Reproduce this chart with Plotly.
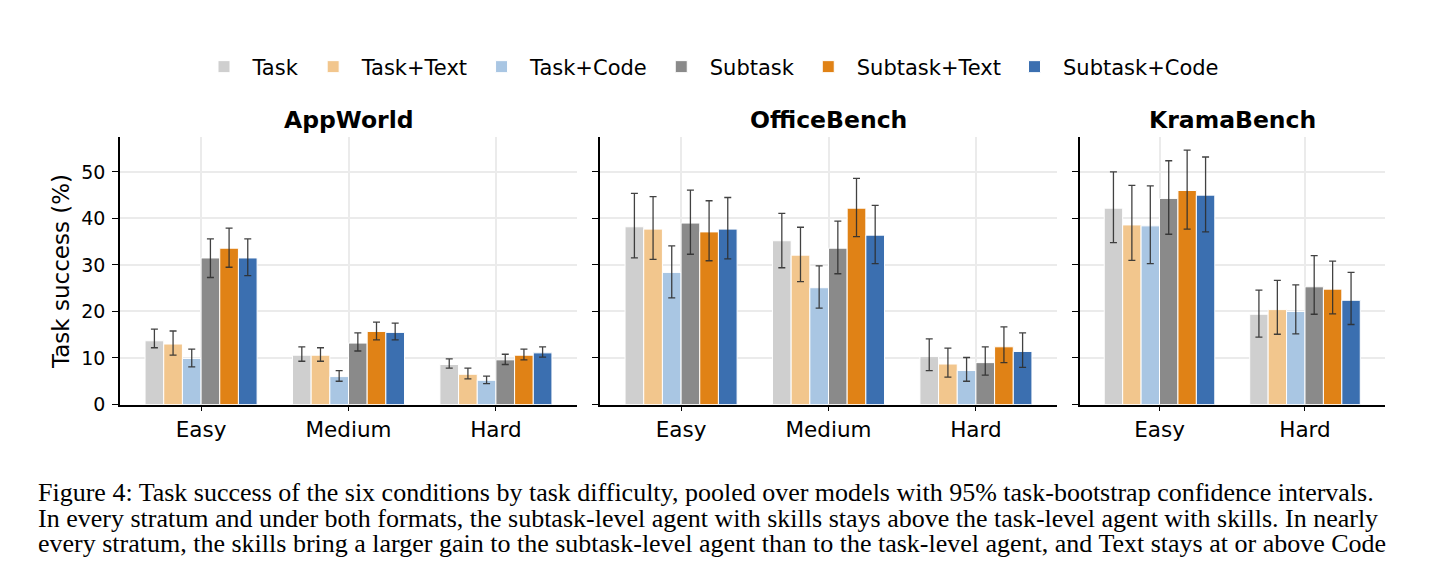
import plotly.graph_objects as go
from plotly.subplots import make_subplots

conditions = ["Task", "Task+Text", "Task+Code", "Subtask", "Subtask+Text", "Subtask+Code"]
colors = ["#cfcfcf", "#f2c68d", "#a9c6e3", "#8a8a8a", "#e08216", "#3b6fb0"]

benchmarks = ["AppWorld", "OfficeBench", "KramaBench"]

# AppWorld: rows = conditions, cols = difficulty
appworld_levels = ["Easy", "Medium", "Hard"]
appworld_mean = [
    [13.7, 10.6, 8.6],
    [13.0, 10.6, 6.5],
    [9.9, 6.0, 5.2],
    [31.5, 13.2, 9.6],
    [33.6, 15.7, 10.6],
    [31.5, 15.5, 11.1],
]
appworld_lo = [
    [12.2, 9.3, 7.8],
    [10.6, 9.3, 5.5],
    [8.1, 5.0, 4.5],
    [27.3, 11.5, 8.6],
    [29.5, 13.9, 9.6],
    [27.7, 13.9, 10.2],
]
appworld_hi = [
    [16.2, 12.4, 9.8],
    [15.8, 12.2, 7.8],
    [11.9, 7.3, 6.1],
    [35.6, 15.4, 10.8],
    [37.9, 17.7, 11.9],
    [35.6, 17.5, 12.4],
]

# OfficeBench
office_levels = ["Easy", "Medium", "Hard"]
office_mean = [
    [38.2, 35.2, 10.3],
    [37.7, 32.1, 8.7],
    [28.4, 25.1, 7.3],
    [39.0, 33.6, 9.0],
    [37.1, 42.2, 12.4],
    [37.7, 36.4, 11.4],
]
office_lo = [
    [31.5, 29.4, 7.3],
    [31.2, 26.4, 5.9],
    [22.9, 20.7, 5.0],
    [32.3, 28.1, 6.3],
    [30.9, 36.1, 9.0],
    [31.3, 30.3, 8.0],
]
office_hi = [
    [45.4, 41.1, 14.1],
    [44.7, 38.1, 12.1],
    [34.1, 29.8, 10.1],
    [46.1, 39.4, 12.4],
    [43.8, 48.6, 16.7],
    [44.5, 42.8, 15.4],
]

# KramaBench
krama_levels = ["Easy", "Hard"]
krama_mean = [
    [42.2, 19.4],
    [38.6, 20.4],
    [38.4, 20.0],
    [44.3, 25.3],
    [46.0, 24.8],
    [45.0, 22.4],
]
krama_lo = [
    [34.8, 14.5],
    [31.0, 15.1],
    [30.3, 15.2],
    [36.6, 19.4],
    [37.7, 19.5],
    [37.1, 17.2],
]
krama_hi = [
    [50.0, 24.6],
    [47.1, 26.7],
    [47.0, 25.7],
    [52.4, 32.0],
    [54.7, 30.8],
    [53.2, 28.4],
]

caption = [
    "Figure 4: Task success of the six conditions by task difficulty, pooled over models with 95% task-bootstrap confidence intervals.",
    "In every stratum and under both formats, the subtask-level agent with skills stays above the task-level agent with skills. In nearly",
    "every stratum, the skills bring a larger gain to the subtask-level agent than to the task-level agent, and Text stays at or above Code",
]

# the page body adds an 8px margin, so work in window pixels minus 8
OFF = 8
W, H = 1438 - OFF, 563 - OFF
FONT = "DejaVu Sans"


def px(x):
    return (x - OFF) / W


def py(y):
    return 1 - (y - OFF) / H


fig = make_subplots(rows=1, cols=3)

panels = [
    (appworld_levels, appworld_mean, appworld_lo, appworld_hi),
    (office_levels, office_mean, office_lo, office_hi),
    (krama_levels, krama_mean, krama_lo, krama_hi),
]

for p, (levels, mean, lo, hi) in enumerate(panels):
    for c, name in enumerate(conditions):
        plus = [h - m for h, m in zip(hi[c], mean[c])]
        minus = [m - l for m, l in zip(mean[c], lo[c])]
        fig.add_trace(go.Bar(
            x=levels, y=mean[c], name=name,
            marker=dict(color=colors[c], line=dict(color="white", width=1)),
            error_y=dict(type="data", array=plus, arrayminus=minus,
                         color="rgba(45,45,45,0.9)", thickness=1.3, width=3.5),
            legendgroup=name, showlegend=(p == 0),
        ), row=1, col=p + 1)

# panel edges in window pixels
x_edges = [(120, 577), (600, 1057), (1079.5, 1385)]
y_bottom, y_top = 404.5, 137
x_rng = [[-0.55, 2.55], [-0.55, 2.55], [-0.55, 1.55]]

for i in range(3):
    fig.update_xaxes(domain=[px(x_edges[i][0]), px(x_edges[i][1])], range=x_rng[i],
                     showline=True, linecolor="black", linewidth=1.5,
                     ticks="outside", ticklen=5, tickwidth=1.3, tickcolor="black",
                     showgrid=True, gridcolor="#ebebeb", gridwidth=1.5,
                     tickfont=dict(family=FONT, size=21.5, color="black"),
                     automargin=False, row=1, col=i + 1)
    fig.update_yaxes(domain=[py(y_bottom), py(y_top)], range=[0, 57.5],
                     tickvals=[0, 10, 20, 30, 40, 50],
                     showline=True, linecolor="black", linewidth=1.5,
                     ticks="outside", ticklen=6, tickwidth=1.3, tickcolor="black",
                     showgrid=True, gridcolor="#ebebeb", gridwidth=1.5, zeroline=False,
                     showticklabels=(i == 0), ticklabelstandoff=3,
                     tickfont=dict(family=FONT, size=19, color="black"),
                     automargin=False, row=1, col=i + 1)

annotations = []
for i, b in enumerate(benchmarks):
    annotations.append(dict(
        text="<b>%s</b>" % b, x=px((x_edges[i][0] + x_edges[i][1]) / 2), y=py(120),
        xref="paper", yref="paper", showarrow=False, xanchor="center", yanchor="middle",
        font=dict(family=FONT, size=23.5, color="black")))

annotations.append(dict(
    text="Task success (%)", x=px(61), y=py(272), xref="paper", yref="paper",
    showarrow=False, textangle=-90, xanchor="center", yanchor="middle",
    font=dict(family=FONT, size=23, color="black")))

for k, line in enumerate(caption):
    annotations.append(dict(
        text=line, x=px(36), y=py(492.5 + 25.5 * k), xref="paper", yref="paper",
        showarrow=False, xanchor="left", yanchor="middle",
        font=dict(family="Liberation Serif", size=26, color="black")))

fig.update_layout(
    width=W, height=H,
    margin=dict(l=0, r=0, t=0, b=0, autoexpand=False),
    paper_bgcolor="white", plot_bgcolor="white",
    barmode="group", bargap=0.24, bargroupgap=0,
    font=dict(family=FONT, color="black"),
    legend=dict(orientation="h", x=px(710), y=py(67), xanchor="center", yanchor="middle",
                font=dict(family=FONT, size=21, color="black"), itemwidth=47,
                bgcolor="rgba(0,0,0,0)"),
    annotations=annotations,
)

fig.write_html("out.html")
